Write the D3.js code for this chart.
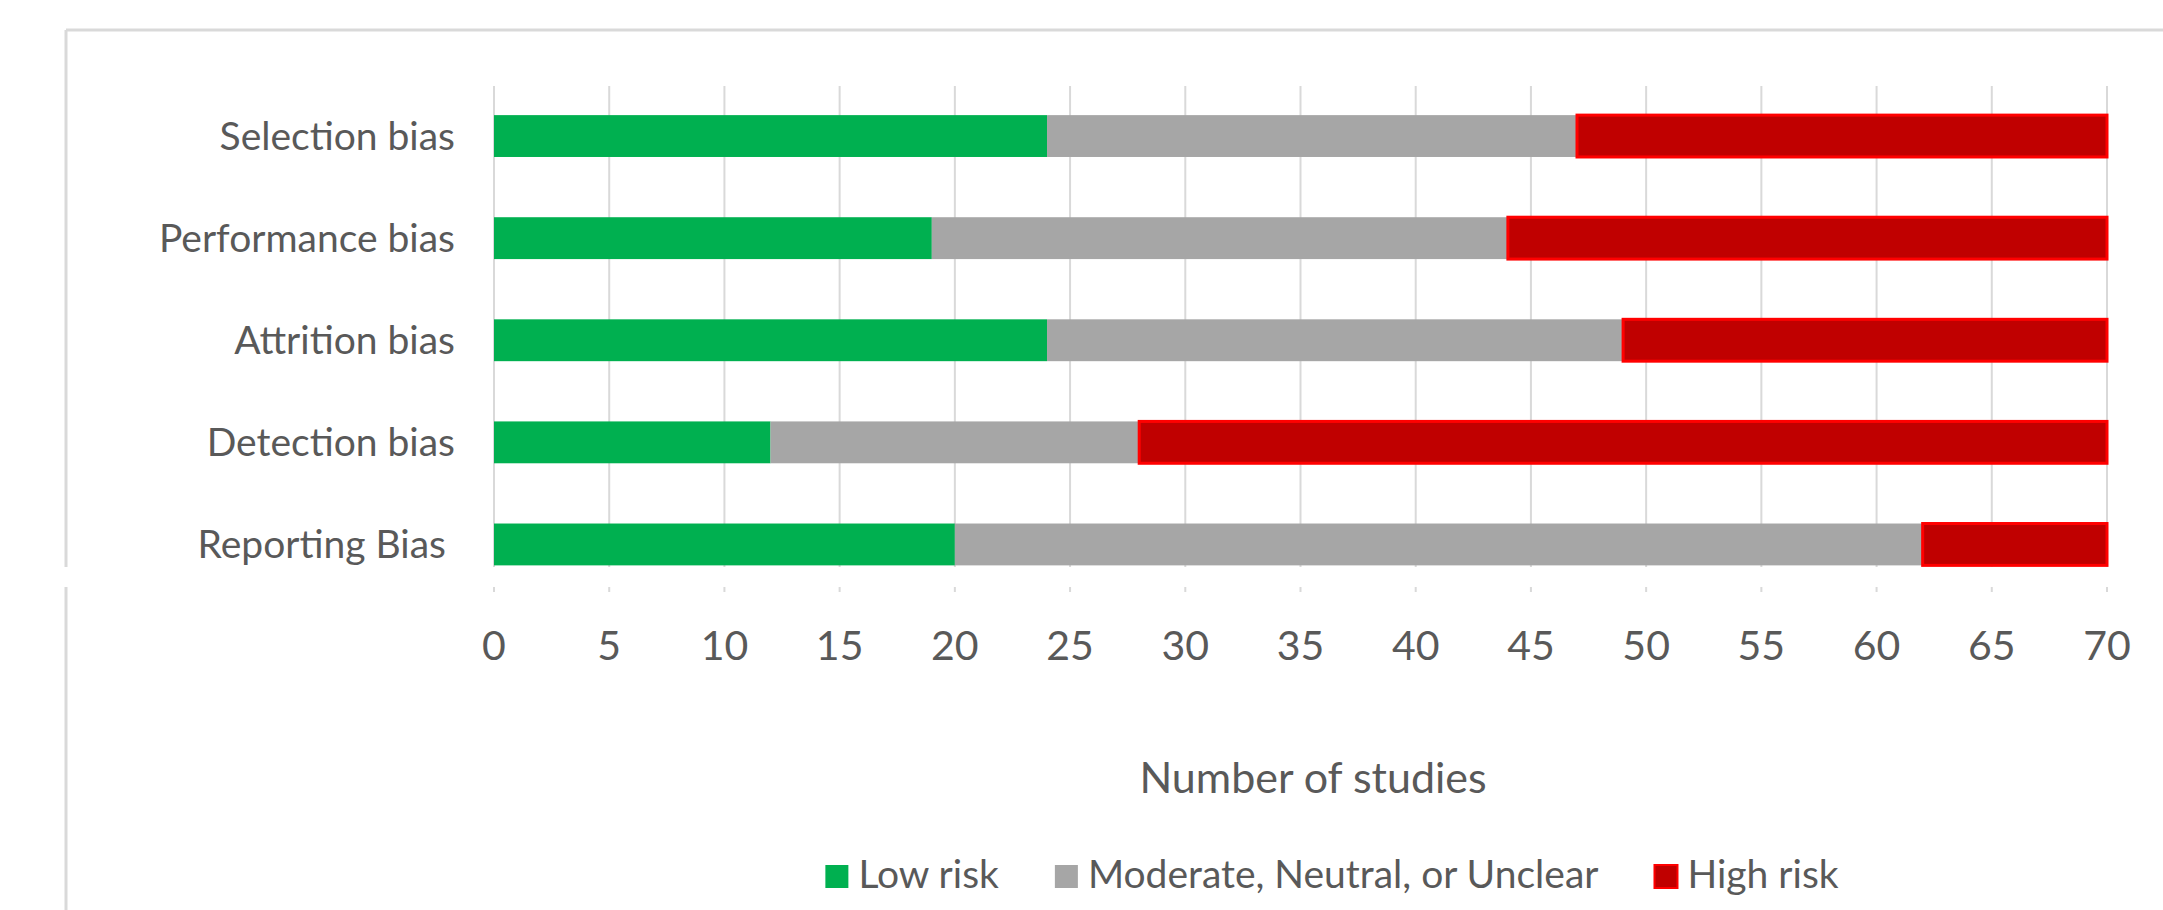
<!DOCTYPE html>
<html>
<head>
<meta charset="utf-8">
<script src="https://cdn.jsdelivr.net/npm/d3@7"></script>
<style>
  html, body { margin: 0; padding: 0; background: #fff; }
  svg text { font-family: Lato, "Open Sans", sans-serif; fill: #595959; }
</style>
</head>
<body>
<div id="chart"></div>
<script>
var categories = ['Selection bias', 'Performance bias', 'Attrition bias', 'Detection bias', 'Reporting Bias'];
var seriesNames = ['Low risk', 'Moderate, Neutral, or Unclear', 'High risk'];
var lowRisk = [24, 19, 24, 12, 20];
var moderate = [23, 25, 25, 16, 42];
var highRisk = [23, 26, 21, 42, 8];
var xTicks = [0, 5, 10, 15, 20, 25, 30, 35, 40, 45, 50, 55, 60, 65, 70];
var xTitle = 'Number of studies';

(function(){
  var width = 2163;
  var height = 910;
  var colors = ['#00b050', '#a6a6a6', '#c00000'];
  var strokes = [null, null, '#ff0000'];

  var svg = d3.select('#chart').append('svg')
                .attr('width', width)
                .attr('height', height);

  // outer chart frame (top + left edges only visible)
  svg.append('line')
      .attr('x1', 66).attr('x2', width).attr('y1', 30).attr('y2', 30)
      .attr('stroke', '#d9d9d9').attr('stroke-width', 3);
  svg.append('line')
      .attr('x1', 66).attr('x2', 66).attr('y1', 30).attr('y2', height)
      .attr('stroke', '#d9d9d9').attr('stroke-width', 3);

  var x = d3.scaleLinear().domain([0, 70]).range([494, 2107]);
  var y = d3.scaleBand().domain(categories).range([85, 595.5])
              .paddingInner(0.59).paddingOuter(0.295);

  // stack rows
  var rows = categories.map(function(c, i){
    return { cat: c, 'Low risk': lowRisk[i], 'Moderate, Neutral, or Unclear': moderate[i], 'High risk': highRisk[i] };
  });
  var stacked = d3.stack().keys(seriesNames)(rows);

  // gridlines
  svg.append('g')
      .selectAll('line')
      .data(xTicks)
      .enter()
      .append('line')
        .attr('x1', function(d){ return x(d); })
        .attr('x2', function(d){ return x(d); })
        .attr('y1', 86)
        .attr('y2', 592)
        .attr('stroke', '#d9d9d9')
        .attr('stroke-width', 2);

  // bars
  var layers = svg.append('g').selectAll('g')
      .data(stacked)
      .enter()
      .append('g')
        .attr('fill', function(d, i){ return colors[i]; });

  layers.selectAll('rect')
      .data(function(d, i){ return d.map(function(p){ return { p: p, s: i }; }); })
      .enter()
      .append('rect')
        .attr('x', function(d){ return x(d.p[0]); })
        .attr('y', function(d){ return y(d.p.data.cat); })
        .attr('width', function(d){ return x(d.p[1]) - x(d.p[0]); })
        .attr('height', y.bandwidth())
        .attr('stroke', function(d){ return strokes[d.s] || 'none'; })
        .attr('stroke-width', 3);

  // white strip cutting across the picture
  svg.append('rect')
      .attr('x', 0).attr('y', 567)
      .attr('width', width).attr('height', 20)
      .attr('fill', '#fff');

  // category labels
  svg.append('g')
      .selectAll('text')
      .data(categories)
      .enter()
      .append('text')
        .text(function(d){ return d; })
        .attr('x', function(d, i){ return i === categories.length - 1 ? 446 : 455; })
        .attr('y', function(d){ return y(d) + y.bandwidth() / 2; })
        .attr('dy', '0.35em')
        .attr('text-anchor', 'end')
        .attr('font-size', 39);

  // x tick labels
  svg.append('g')
      .selectAll('text')
      .data(xTicks)
      .enter()
      .append('text')
        .text(function(d){ return d; })
        .attr('x', function(d){ return x(d); })
        .attr('y', 660)
        .attr('text-anchor', 'middle')
        .attr('font-size', 41);

  // axis title
  svg.append('text')
      .text(xTitle)
      .attr('x', 1313)
      .attr('y', 793)
      .attr('text-anchor', 'middle')
      .attr('font-size', 43);

  // legend
  var legend = svg.append('g');
  var items = legend.selectAll('g')
      .data(seriesNames)
      .enter()
      .append('g');
  items.append('rect')
      .attr('width', 23).attr('height', 23)
      .attr('y', 865)
      .attr('fill', function(d, i){ return colors[i]; })
      .attr('stroke', function(d, i){ return strokes[i] || 'none'; })
      .attr('stroke-width', 2);
  items.append('text')
      .text(function(d){ return d; })
      .attr('x', 33)
      .attr('y', 888)
      .attr('font-size', 39);

  var offset = 0;
  var positions = [];
  items.each(function(){
    var w = d3.select(this).select('text').node().getComputedTextLength();
    positions.push(offset);
    offset += 33 + w + 56;
  });
  var total = offset - 56;
  var start = 1332 - total / 2;
  items.attr('transform', function(d, i){ return 'translate(' + (start + positions[i]) + ',0)'; });
})();
</script>
</body>
</html>
